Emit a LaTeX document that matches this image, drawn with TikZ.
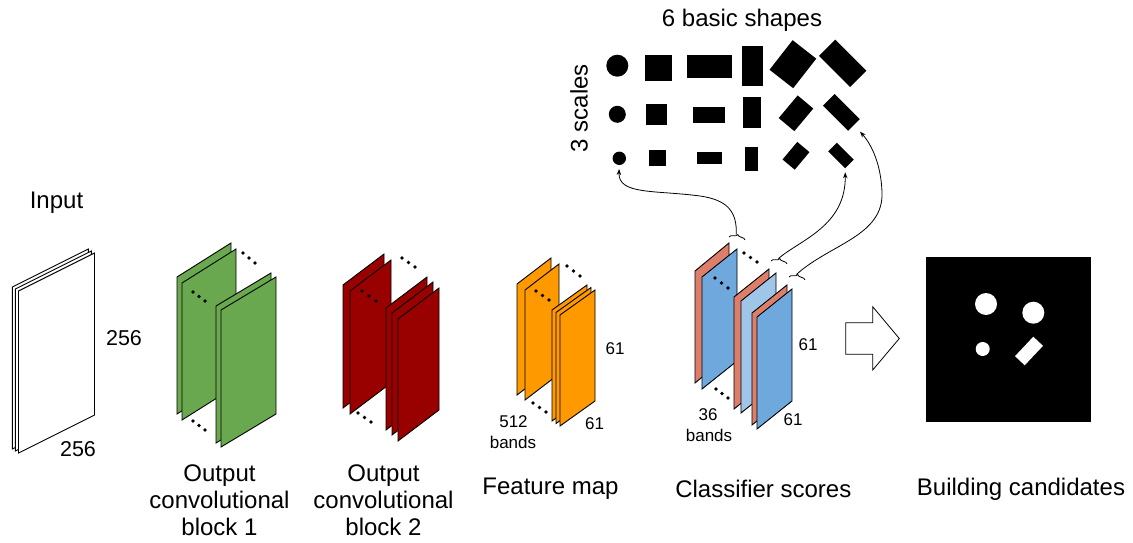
\documentclass[tikz,border=0pt]{standalone}
\usepackage{fontspec}
\setmainfont{Liberation Sans}
\usetikzlibrary{arrows.meta,decorations.pathreplacing}

\definecolor{convA}{HTML}{6AA84F}
\definecolor{convB}{HTML}{990000}
\definecolor{feat}{HTML}{FF9900}
\definecolor{scoreR}{HTML}{DD7E6B}
\definecolor{scoreB}{HTML}{6FA8DC}
\definecolor{scoreL}{HTML}{9FC5E8}

% one sheet of a stack: fill, top-left x, y, top edge dx, dy, height
\newcommand{\slab}[6]{\filldraw[slabline,fill=#1] (#2,#3) -- ++(#4,#5) -- ++(0,#6) -- ++({-(#4)},{-(#5)}) -- cycle;}
% three dots from one point to another
\newcommand{\dotrow}[4]{\foreach \t in {0,0.5,1}{\fill ({#1+\t*((#3)-(#1))},{#2+\t*((#4)-(#2))}) circle (1.8);}}

\begin{document}
\begin{tikzpicture}[x=1pt,y=-1pt,
  slabline/.style={draw=black,line width=0.9pt,line join=miter},
  lbl/.style={font=\fontsize{24}{28}\selectfont,inner sep=0pt,anchor=base},
  dim/.style={font=\fontsize{21.5}{24}\selectfont,inner sep=0pt,anchor=base},
  small/.style={font=\fontsize{17}{19}\selectfont,inner sep=0pt,anchor=base},
  blob/.style={fill=black,draw=none,inner sep=0pt,outer sep=0pt},
  hole/.style={fill=white,draw=none,inner sep=0pt,outer sep=0pt},
  link/.style={line width=0.8pt,-{Stealth[length=6pt,width=4.5pt]}},
  bracket/.style={line width=0.8pt,decorate,decoration={brace,amplitude=4pt}},
]
\useasboundingbox (0,0) rectangle (1133,543);

% ---- input image stack
\slab{white}{12.3}{287}{76}{-38}{162}
\slab{white}{15.4}{289}{76}{-38}{162}
\slab{white}{18.5}{291}{76}{-38}{162}
\node[lbl] (input) at (56.5,208) {Input};
\node[dim] (inH) at (124,345) {256};
\node[dim] (inW) at (78,456) {256};

% ---- convolutional block 1
\slab{convA}{177}{277}{54}{-34}{137}
\slab{convA}{182}{283}{54}{-34}{137}
\slab{convA}{216}{306}{55}{-33}{137}
\slab{convA}{221}{310}{55}{-33}{137}
\dotrow{243}{253}{255}{263}
\dotrow{193}{292}{205}{301}
\dotrow{193}{421}{205}{430}
\node[lbl] (b1a) at (219.5,481) {Output};
\node[lbl] (b1b) at (219.5,508) {convolutional};
\node[lbl] (b1c) at (219.5,535) {block 1};

% ---- convolutional block 2
\slab{convB}{343}{285}{41}{-31}{123}
\slab{convB}{350}{291}{41}{-31}{123}
\slab{convB}{386}{308}{41}{-31}{122}
\slab{convB}{392}{313}{41}{-31}{122}
\slab{convB}{398}{319}{41}{-31}{122}
\dotrow{402}{258}{415}{267}
\dotrow{362}{291}{376}{301}
\dotrow{358}{413}{371}{422}
\node[lbl] (b2a) at (383.5,481) {Output};
\node[lbl] (b2b) at (383.5,508) {convolutional};
\node[lbl] (b2c) at (383.5,535) {block 2};

% ---- feature map
\slab{feat}{517}{284}{34}{-26}{111}
\slab{feat}{525}{290}{34}{-26}{110}
\slab{feat}{552}{310}{35}{-25}{111}
\slab{feat}{556}{312.5}{35}{-25}{111}
\slab{feat}{560}{315}{35}{-25}{111}
\dotrow{567}{266}{580}{276}
\dotrow{536}{291}{549}{300}
\dotrow{533}{403}{546}{412}
\node[small] (fH) at (615,354) {61};
\node[small] (fW) at (594.5,429) {61};
\node[small] (fN) at (513.5,427) {512};
\node[small] (fB) at (513,448) {bands};
\node[lbl] (feature) at (550.5,494) {Feature map};

% ---- classifier scores
\slab{scoreR}{695}{271}{34}{-28}{112}
\slab{scoreB}{702}{277}{35}{-28}{112}
\slab{scoreR}{734}{297}{35}{-28}{112}
\slab{scoreL}{741}{301}{35}{-28}{112}
\slab{scoreR}{752}{313}{35}{-28}{112}
\slab{scoreB}{757}{317}{35}{-28}{112}
\dotrow{744}{253}{757}{262}
\dotrow{715}{278}{728}{288}
\dotrow{716}{389}{728}{398}
\node[small] (sH) at (808,350) {61};
\node[small] (sW) at (793,425) {61};
\node[small] (sN) at (708,420) {36};
\node[small] (sB) at (709,441.5) {bands};
\node[lbl] (scores) at (763.3,497) {Classifier scores};

% ---- the six basic shapes at three scales
\node[lbl] (shapes) at (742,27) {6 basic shapes};
\node[lbl,rotate=90] (scales) at (587.5,108.3) {3 scales};

\node[blob,circle,minimum size=22] (s11) at (617.3,65.7) {};
\node[blob,minimum width=26.7,minimum height=26] (s12) at (658.3,68) {};
\node[blob,minimum width=45,minimum height=23.3] (s13) at (709.2,66.7) {};
\node[blob,minimum width=21.7,minimum height=40] (s14) at (752.5,66) {};
\node[blob,minimum width=37.5,minimum height=30,rotate=52] (s15) at (792.9,64.2) {};
\node[blob,minimum width=44,minimum height=23,rotate=-45] (s16) at (842.6,63.3) {};

\node[blob,circle,minimum size=17] (s21) at (617.3,114.3) {};
\node[blob,minimum width=21.3,minimum height=21] (s22) at (656.7,114.5) {};
\node[blob,minimum width=32.3,minimum height=16.7] (s23) at (708.8,115) {};
\node[blob,minimum width=17.7,minimum height=31.7] (s24) at (752.2,112.5) {};
\node[blob,minimum width=29.5,minimum height=20.4,rotate=50] (s25) at (796,113.3) {};
\node[blob,minimum width=35.6,minimum height=16.6,rotate=-45] (s26) at (841.4,112.4) {};

\node[blob,circle,minimum size=13.4] (s31) at (619.3,158.3) {};
\node[blob,minimum width=16.4,minimum height=15.7] (s32) at (657.5,157.8) {};
\node[blob,minimum width=24.3,minimum height=12.3] (s33) at (709.5,157.8) {};
\node[blob,minimum width=13.3,minimum height=24.3] (s34) at (751.7,158.8) {};
\node[blob,minimum width=22.9,minimum height=15.9,rotate=50] (s35) at (796,155.8) {};
\node[blob,minimum width=24,minimum height=12.3,rotate=-45] (s36) at (841,155.5) {};

% ---- braces over the score bands and their links to the shapes
\draw[bracket] (729,237) -- (745,240);
\draw[bracket] (771,261) -- (787,264);
\draw[bracket] (789,277) -- (805,280);
\coordinate (t1) at (736.3,234.5);
\coordinate (t2) at (778.4,258.5);
\coordinate (t3) at (796.4,274.5);

\draw[link,shorten >=4pt] (t1) .. controls (737,212) and (728,200) .. (700,196)
  .. controls (655,190) and (618,195) .. (s31.south);
\draw[link,shorten >=4pt] (t2) .. controls (800,240) and (846,226) .. (s36.south east);
\draw[link,shorten >=9pt] (t3) .. controls (830,244) and (884,236) .. (882,192)
  .. controls (881,165) and (872,145) .. (s26.east);

% ---- hollow arrow to the result
\draw[line width=0.8pt,line join=miter] (845.7,322.7) -- (872.7,322.7) -- (872.7,306.7) -- (899.3,338.5)
  -- (872.7,370) -- (872.7,354.3) -- (845.7,354.3) -- cycle;

% ---- building candidates
\node[blob,minimum width=165,minimum height=164.4] (cand) at (1008.5,339.5) {};
\node[hole,circle,minimum size=22] (c1) at (986,304) {};
\node[hole,circle,minimum size=22] (c2) at (1033.3,312.7) {};
\node[hole,circle,minimum size=14] (c3) at (982.7,349) {};
\node[hole,minimum width=26.7,minimum height=13.3,rotate=46.7] (c4) at (1029,351) {};
\node[lbl] (result) at (1021,495.5) {Building candidates};
\end{tikzpicture}
\end{document}
